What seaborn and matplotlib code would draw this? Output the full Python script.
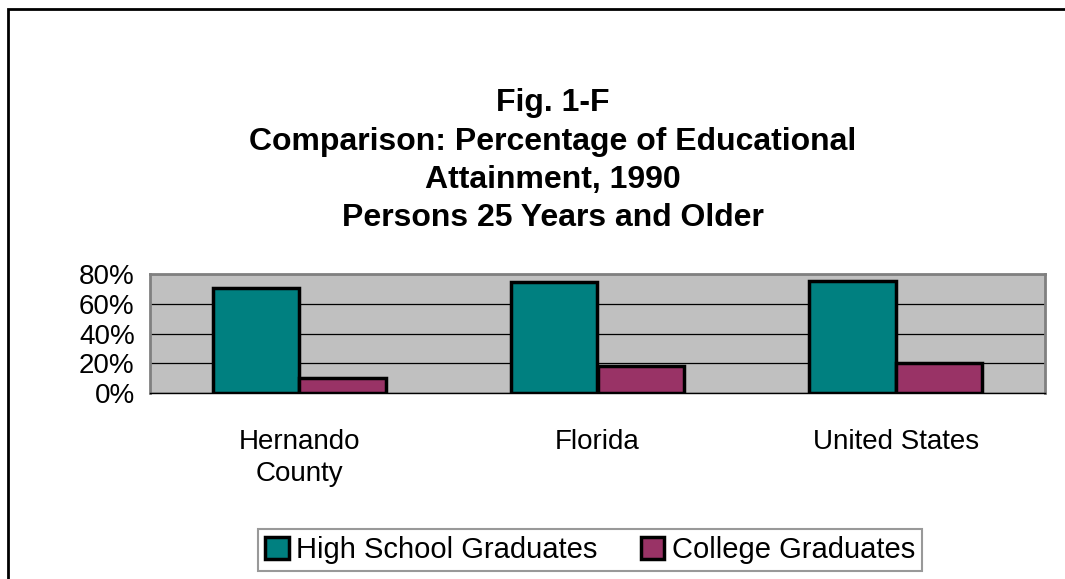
import pandas as pd
import matplotlib
matplotlib.use("Agg")
import matplotlib.pyplot as plt
import seaborn as sns
from matplotlib.patches import Rectangle

# Data (percent of persons 25+)
regions = ["Hernando\nCounty", "Florida", "United States"]
high_school = [70.6, 74.4, 75.2]
college = [10.3, 18.3, 20.3]
series_names = ["High School Graduates", "College Graduates"]
y_ticks = [0, 20, 40, 60, 80]
tick_labels = ["0%", "20%", "40%", "60%", "80%"]
colors = ["#008080", "#993366"]

df = pd.DataFrame({
    "region": regions * 2,
    "series": [series_names[0]] * 3 + [series_names[1]] * 3,
    "value": high_school + college,
})

sns.set_theme(style="white")
plt.rcParams["font.family"] = ["Liberation Sans", "DejaVu Sans"]
plt.rcParams["text.color"] = "black"
plt.rcParams["xtick.color"] = "black"
plt.rcParams["ytick.color"] = "black"

fig = plt.figure(figsize=(10.65, 5.79), dpi=100)
ax = fig.add_axes([150 / 1065, 1 - 393 / 579, 895 / 1065, 119 / 579])

sns.barplot(data=df, x="region", y="value", hue="series", order=regions,
            hue_order=series_names, palette=colors, saturation=1,
            width=0.58, gap=0, edgecolor="black", linewidth=2.5,
            legend=False, ax=ax, zorder=3)

ax.set_facecolor("#C0C0C0")
ax.set_xlim(-0.5, 2.5)
ax.set_ylim(0, 80)
ax.set_yticks(y_ticks)
ax.set_yticklabels(tick_labels, fontsize=20)
ax.yaxis.grid(True, color="black", linewidth=0.9)
ax.set_axisbelow(True)
ax.set_xlabel("")
ax.set_ylabel("")

# x ticks sit on category boundaries, labels centred between them
ax.set_xticks([-0.5, 0.5, 1.5, 2.5])
ax.set_xticklabels([])
ax.set_xticks([0, 1, 2], minor=True)
ax.set_xticklabels(regions, minor=True, fontsize=20, linespacing=1.3, va="top")
ax.tick_params(axis="x", which="minor", length=0, pad=26)
ax.tick_params(axis="x", which="major", length=8, width=1, color="black", direction="out")
ax.tick_params(axis="y", length=9, width=1, color="black", direction="out", pad=2)

for side in ["top", "right", "left"]:
    ax.spines[side].set_color("#808080")
    ax.spines[side].set_linewidth(2)
ax.spines["bottom"].set_color("black")
ax.spines["bottom"].set_linewidth(1)

# title block
title_lines = ["Fig. 1-F", "Comparison: Percentage of Educational",
               "Attainment, 1990", "Persons 25 Years and Older"]
for line, ypix in zip(title_lines, [103, 142, 180, 218]):
    fig.text(553 / 1065, 1 - ypix / 579, line, ha="center", va="center",
             fontsize=23, fontweight="bold", color="black")

# legend
handles = [Rectangle((0, 0), 1, 1, facecolor=c, edgecolor="black", linewidth=2.5)
           for c in colors]
leg = fig.legend(handles, series_names, loc="center", ncol=2,
                 bbox_to_anchor=(590 / 1065, 1 - 550 / 579), fontsize=21,
                 frameon=True, fancybox=False, handlelength=0.8, handleheight=0.8,
                 handletextpad=0.25, columnspacing=1.5, borderpad=0.25)
leg.get_frame().set_edgecolor("#808080")
leg.get_frame().set_linewidth(1.5)

# outer chart border
fig.patches.append(Rectangle((8 / 1065, -0.05), 1.1, 1 - 9 / 579 + 0.05,
                             transform=fig.transFigure, fill=False,
                             edgecolor="black", linewidth=2))

fig.savefig("out.png", dpi=100)
